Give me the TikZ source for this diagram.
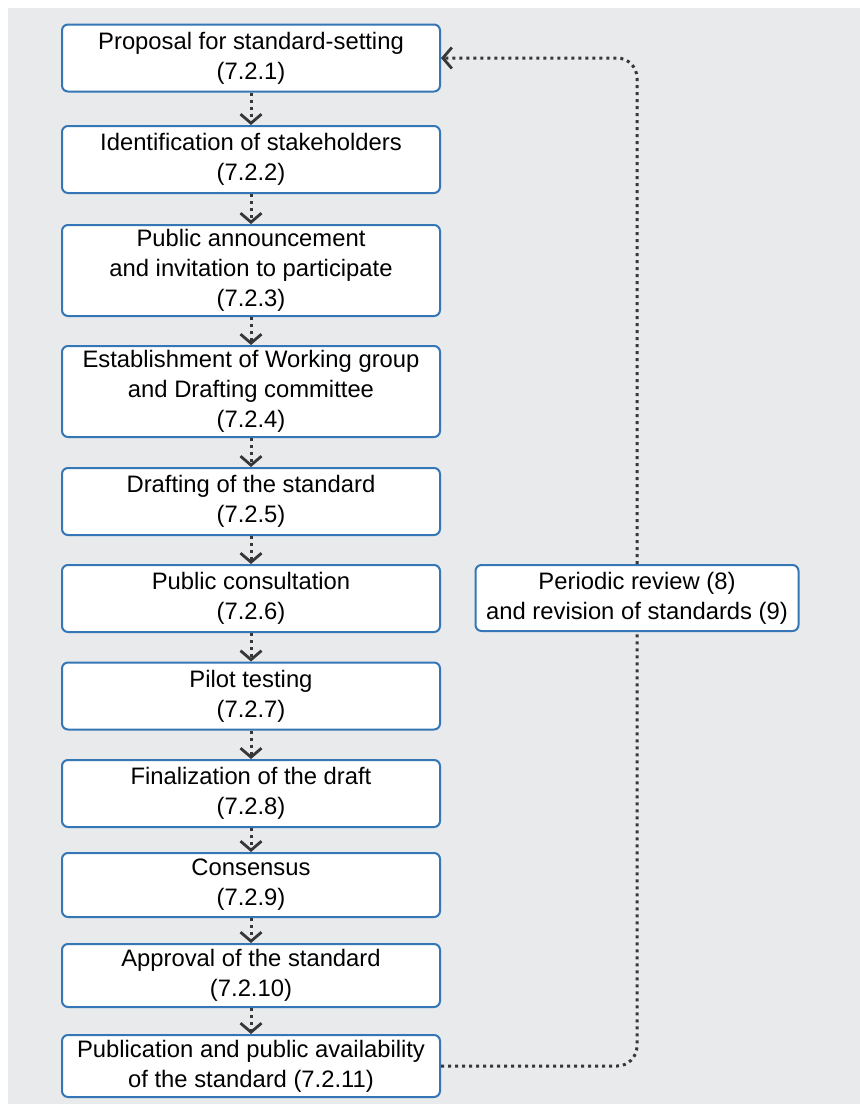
\documentclass[tikz,border=0pt]{standalone}
\usepackage{fontspec}
\setmainfont{Liberation Sans}
\usetikzlibrary{arrows.meta}
\definecolor{boxblue}{RGB}{52,118,182}
\definecolor{pagegray}{RGB}{233,234,235}
\definecolor{arrowgray}{RGB}{55,55,55}
\tikzset{
  stepbox/.style={draw=boxblue, line width=1pt, fill=white, rounded corners=3pt,
    minimum width=189pt, minimum height=33.5pt, inner sep=0pt, align=center,
    font=\fontsize{11.9}{15}\selectfont},
  tallbox/.style={stepbox, minimum height=45.5pt},
  dotline/.style={draw=arrowgray, line width=1.5pt, dash pattern=on 1.5pt off 2pt},
  flow/.style={dotline, -{Straight Barb[length=4.5pt,width=10.5pt,line width=1.4pt]}},
}
\begin{document}
\begin{tikzpicture}[x=0.5pt,y=-0.5pt]
  \fill[white] (0,0) rectangle (860,1104);
  \fill[pagegray] (8,8) rectangle (860,1104);
  % steps
  \node[stepbox] (prop) at (251,58) {Proposal for standard-setting\\(7.2.1)};
  \node[stepbox] (ident) at (251,159.5) {Identification of stakeholders\\(7.2.2)};
  \node[tallbox] (announce) at (251,270.5) {Public announcement\\and invitation to participate\\(7.2.3)};
  \node[tallbox] (estab) at (251,391.5) {Establishment of Working group\\and Drafting committee\\(7.2.4)};
  \node[stepbox] (draft) at (251,501.5) {Drafting of the standard\\(7.2.5)};
  \node[stepbox] (consult) at (251,598.5) {Public consultation\\(7.2.6)};
  \node[stepbox] (pilot) at (251,696) {Pilot testing\\(7.2.7)};
  \node[stepbox] (final) at (251,793.5) {Finalization of the draft\\(7.2.8)};
  \node[stepbox, minimum height=32pt] (consens) at (251,885) {Consensus\\(7.2.9)};
  \node[stepbox, minimum height=31.5pt] (approve) at (251,975.5) {Approval of the standard\\(7.2.10)};
  \node[stepbox, minimum height=31pt] (publish) at (251,1066) {Publication and public availability\\of the standard (7.2.11)};
  \node[stepbox, minimum width=161.5pt, minimum height=33pt] (review) at (637,598) {Periodic review (8)\\and revision of standards (9)};
  % arrows
  \draw[flow] (prop) -- (ident);
  \draw[flow] (ident) -- (announce);
  \draw[flow] (announce) -- (estab);
  \draw[flow] (estab) -- (draft);
  \draw[flow] (draft) -- (consult);
  \draw[flow] (consult) -- (pilot);
  \draw[flow] (pilot) -- (final);
  \draw[flow] (final) -- (consens);
  \draw[flow] (consens) -- (approve);
  \draw[flow] (approve) -- (publish);
  % loop back
  \draw[dotline, rounded corners=10pt] (publish.east) -| (review.south);
  \draw[flow, rounded corners=10pt] (review.north) |- (prop.east);
\end{tikzpicture}
\end{document}
